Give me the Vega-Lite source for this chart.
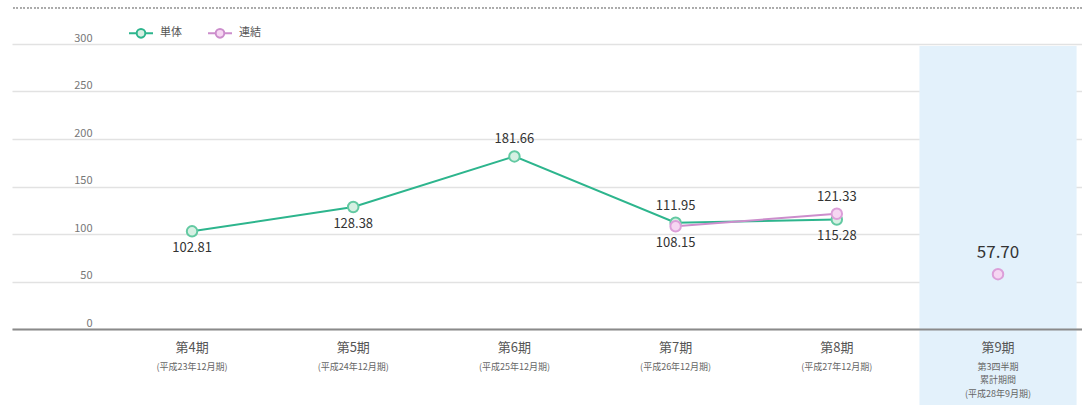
{
  "$schema": "https://vega.github.io/schema/vega-lite/v6.json",
  "width": 1070,
  "height": 285,
  "autosize": {"type": "none"},
  "padding": {"left": 12, "top": 44, "right": 0, "bottom": 76},
  "background": "#ffffff",
  "config": {
    "font": "Noto Sans CJK JP",
    "view": {"stroke": null}
  },
  "data": {
    "values": [
      {"period": "第4期", "series": "単体", "value": 102.81, "seg": "a", "pos": "below"},
      {"period": "第5期", "series": "単体", "value": 128.38, "seg": "a", "pos": "below"},
      {"period": "第6期", "series": "単体", "value": 181.66, "seg": "a", "pos": "above"},
      {"period": "第7期", "series": "単体", "value": 111.95, "seg": "a", "pos": "above"},
      {"period": "第8期", "series": "単体", "value": 115.28, "seg": "a", "pos": "below"},
      {"period": "第7期", "series": "連結", "value": 108.15, "seg": "a", "pos": "below"},
      {"period": "第8期", "series": "連結", "value": 121.33, "seg": "a", "pos": "above"},
      {"period": "第9期", "series": "連結", "value": 57.70, "seg": "b", "pos": "big"}
    ]
  },
  "resolve": {"axis": {"x": "independent", "y": "independent"}},
  "layer": [
    {
      "data": {"values": [{"period": "第9期"}]},
      "mark": {"type": "rect", "color": "#e3f1fb", "clip": false, "width": {"band": 0.975}},
      "encoding": {
        "x": {"field": "period", "type": "nominal", "axis": null,
              "scale": {"domain": ["第4期", "第5期", "第6期", "第7期", "第8期", "第9期"], "paddingInner": 0, "paddingOuter": 0.319, "align": 0.967}},
        "y": {"datum": 298, "type": "quantitative", "axis": null},
        "y2": {"datum": -85}
      }
    },
    {
      "mark": {"type": "rule", "color": "#aaaaaa", "strokeDash": [1.5, 2], "strokeWidth": 1.2, "clip": false},
      "encoding": {
        "y": {"datum": 338, "type": "quantitative", "axis": null}
      }
    },
    {
      "mark": {"type": "line", "strokeWidth": 2},
      "encoding": {
        "x": {"field": "period", "type": "nominal",
              "axis": {"title": null, "labelAngle": 0, "ticks": false, "domain": true, "domainColor": "#8a8a8a", "domainWidth": 2, "labelFontSize": 13, "labelColor": "#555555", "labelPadding": 12, "labelBaseline": "top", "grid": false, "zindex": 2}},
        "y": {"field": "value", "type": "quantitative",
              "scale": {"domain": [0, 300], "nice": false, "zero": true},
              "axis": {"title": null, "values": [0, 50, 100, 150, 200, 250, 300], "grid": true, "gridColor": "#e2e2e2", "gridWidth": 1.5, "domain": false, "ticks": false, "labelPadding": -80, "labelAlign": "right", "labelBaseline": "bottom", "labelOffset": -1, "labelFontSize": 11, "labelColor": "#777777", "zindex": 0}},
        "color": {"field": "series", "type": "nominal",
                  "scale": {"domain": ["単体", "連結"], "range": ["#2db58d", "#cc8dcc"]},
                  "legend": {"title": null, "orient": "none", "legendX": 116, "legendY": -24, "direction": "horizontal", "padding": 0,
                             "symbolType": "M-1,0H-0.36M0.36,0H1M-0.36,0A0.36,0.36,0,1,1,0.36,0A0.36,0.36,0,1,1,-0.36,0Z",
                             "symbolSize": 576, "symbolStrokeWidth": 2, "labelFontSize": 11, "labelColor": "#555555", "labelOffset": 6, "columnPadding": 22,
                             "encode": {"symbols": {"update": {"fill": {"value": "#ffffff"}, "stroke": {"scale": "color", "field": "value"}, "strokeWidth": {"value": 2}}}}}},
        "detail": {"field": "seg"}
      }
    },
    {
      "mark": {"type": "point", "filled": true, "size": 110, "strokeWidth": 2, "opacity": 1, "shape": "circle"},
      "encoding": {
        "x": {"field": "period", "type": "nominal", "axis": null},
        "y": {"field": "value", "type": "quantitative", "axis": null},
        "fill": {"field": "series", "type": "nominal", "scale": {"domain": ["単体", "連結"], "range": ["#d6f0e3", "#f6d6f2"]}, "legend": null},
        "stroke": {"field": "series", "type": "nominal", "scale": {"domain": ["単体", "連結"], "range": ["#63c9a2", "#dc9fd9"]}, "legend": null}
      }
    },
    {
      "transform": [{"filter": "datum.pos == 'above'"}],
      "mark": {"type": "text", "dy": -17, "fontSize": 13, "color": "#333333"},
      "encoding": {
        "x": {"field": "period", "type": "nominal", "axis": null},
        "y": {"field": "value", "type": "quantitative", "axis": null},
        "text": {"field": "value", "type": "quantitative", "format": ".2f"}
      }
    },
    {
      "transform": [{"filter": "datum.pos == 'below'"}],
      "mark": {"type": "text", "dy": 17, "fontSize": 13, "color": "#333333"},
      "encoding": {
        "x": {"field": "period", "type": "nominal",
              "axis": {"title": null, "orient": "bottom", "labelAngle": 0, "ticks": false, "domain": false, "grid": false, "labelFontSize": 9, "labelColor": "#666666", "labelPadding": 33, "labelBaseline": "top", "labelLineHeight": 13.5, "zindex": 2, "labelOverlap": false,
                       "labelExpr": "datum.value == '第4期' ? '(平成23年12月期)' : datum.value == '第5期' ? '(平成24年12月期)' : datum.value == '第6期' ? '(平成25年12月期)' : datum.value == '第7期' ? '(平成26年12月期)' : datum.value == '第8期' ? '(平成27年12月期)' : ['第3四半期', '累計期間', '(平成28年9月期)']"}},
        "y": {"field": "value", "type": "quantitative", "axis": null},
        "text": {"field": "value", "type": "quantitative", "format": ".2f"}
      }
    },
    {
      "transform": [{"filter": "datum.pos == 'big'"}],
      "mark": {"type": "text", "dy": -21, "fontSize": 17, "color": "#333333"},
      "encoding": {
        "x": {"field": "period", "type": "nominal", "axis": null},
        "y": {"field": "value", "type": "quantitative", "axis": null},
        "text": {"field": "value", "type": "quantitative", "format": ".2f"}
      }
    }
  ]
}
